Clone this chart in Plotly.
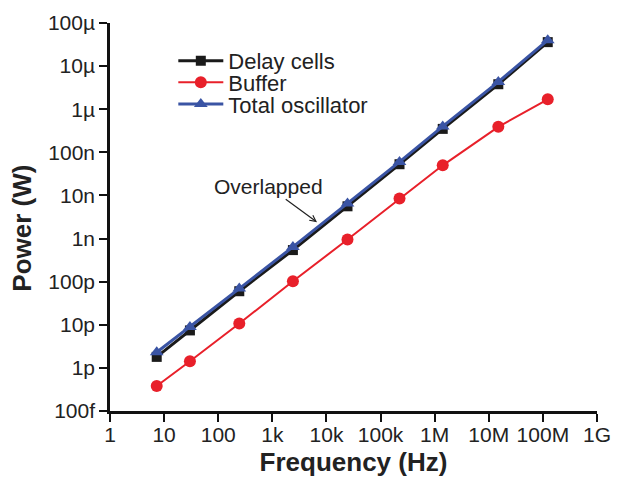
import plotly.graph_objects as go

# frequency (Hz) of each measured point
freq = [7.3, 30, 245, 2.4e3, 24.5e3, 224e3, 1.41e6, 15e6, 123e6]

# power (W)
delay_cells = [1.8e-12, 7.4e-12, 60e-12, 540e-12, 5.6e-9, 53e-9, 350e-9, 3.8e-6, 36e-6]
buffer_pw = [0.38e-12, 1.42e-12, 10.7e-12, 102e-12, 0.95e-9, 8.5e-9, 50e-9, 390e-9, 1.7e-6]
total_osc = [2.3e-12, 8.9e-12, 69e-12, 640e-12, 6.5e-9, 60e-9, 400e-9, 4.3e-6, 40e-6]

x_tickvals = [1, 10, 100, 1e3, 1e4, 1e5, 1e6, 1e7, 1e8, 1e9]
x_ticktext = ["1", "10", "100", "1k", "10k", "100k", "1M", "10M", "100M", "1G"]
y_tickvals = [1e-13, 1e-12, 1e-11, 1e-10, 1e-9, 1e-8, 1e-7, 1e-6, 1e-5, 1e-4]
y_ticktext = ["100f", "1p", "10p", "100p", "1n", "10n", "100n", "1\u00b5", "10\u00b5", "100\u00b5"]

FONT = "Arial, Liberation Sans, sans-serif"

fig = go.Figure()

fig.add_trace(go.Scatter(
    x=freq, y=delay_cells, mode="lines+markers", name="Delay cells",
    line=dict(color="#1a1a1a", width=3),
    marker=dict(symbol="square", size=10, color="#1a1a1a"),
    legend="legend",
))
fig.add_trace(go.Scatter(
    x=freq, y=buffer_pw, mode="lines+markers", name="Buffer",
    line=dict(color="#e8202a", width=2),
    marker=dict(symbol="circle", size=12, color="#e8202a"),
    legend="legend2",
))
fig.add_trace(go.Scatter(
    x=freq, y=total_osc, mode="lines+markers", name="Total oscillator",
    line=dict(color="#3a54a4", width=3),
    marker=dict(symbol="triangle-up", size=12, color="#3a54a4"),
    legend="legend3",
))

leg = dict(font=dict(family=FONT, size=22, color="#222"), bgcolor="rgba(0,0,0,0)",
           xanchor="left", yanchor="middle", itemwidth=45, borderwidth=0)

# page body adds 8px margin, so the figure is 8px smaller than the window
fig.update_layout(
    width=615, height=477,
    margin=dict(l=102, r=26, t=15, b=74, autoexpand=False),
    paper_bgcolor="white", plot_bgcolor="white",
    font=dict(family=FONT, color="#222"),
    showlegend=True,
    legend=dict(leg, x=0.13, y=0.9025),
    legend2=dict(leg, x=0.13, y=0.8465),
    legend3=dict(leg, x=0.13, y=0.7905),
    xaxis=dict(
        type="log", range=[0, 9], tickvals=x_tickvals, ticktext=x_ticktext,
        showline=True, linecolor="#111", linewidth=2.5, mirror=False,
        ticks="outside", ticklen=8, tickwidth=2, tickcolor="#111",
        showgrid=False, zeroline=False, ticklabelstandoff=-5, automargin=False,
        tickfont=dict(family=FONT, size=21, color="#222"),
        title=dict(text="<b>Frequency (Hz)</b>", font=dict(family=FONT, size=26, color="#222"), standoff=8),
    ),
    yaxis=dict(
        type="log", range=[-13, -4], tickvals=y_tickvals, ticktext=y_ticktext,
        showline=True, linecolor="#111", linewidth=2.5, mirror=False,
        ticks="outside", ticklen=8, tickwidth=2, tickcolor="#111",
        showgrid=False, zeroline=False, automargin=False,
        tickfont=dict(family=FONT, size=21, color="#222"),
    ),
    annotations=[
        dict(
            x=3.826, y=-8.62, xref="x", yref="y", text="Overlapped",
            font=dict(family=FONT, size=21, color="#222"),
            showarrow=True, arrowhead=5, arrowsize=1, arrowwidth=1.2, arrowcolor="#222",
            ax=-49, ay=-36, xanchor="center", yanchor="middle",
        ),
        dict(
            x=0, y=0.47, xref="paper", yref="paper", xanchor="center", xshift=-88,
            text="<b>Power (W)</b>", textangle=-90, showarrow=False,
            font=dict(family=FONT, size=26, color="#222"),
        ),
    ],
)

fig.write_html("out.html")
